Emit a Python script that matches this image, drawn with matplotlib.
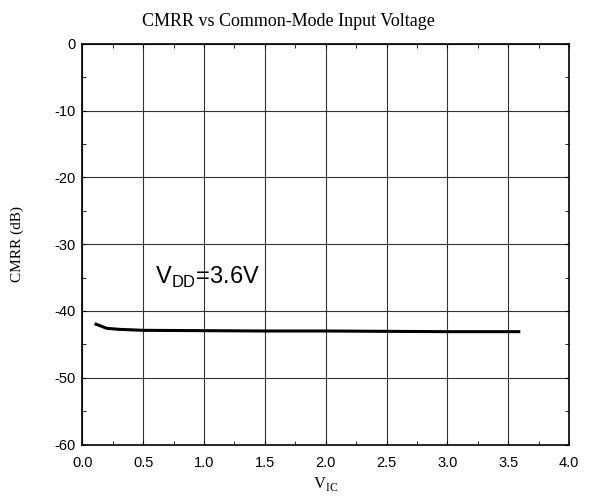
import matplotlib
matplotlib.use('Agg')
import matplotlib.pyplot as plt
from matplotlib.ticker import MultipleLocator

plt.rcParams['axes.unicode_minus'] = False

# CMRR vs common-mode input voltage, VDD = 3.6 V
vic = [0.1, 0.2, 0.3, 0.5, 1.0, 1.5, 2.0, 2.5, 3.0, 3.6]
cmrr = [-41.9, -42.6, -42.75, -42.9, -42.95, -43.0, -43.0, -43.05, -43.1, -43.1]

fig = plt.figure(figsize=(5.89, 5.04), dpi=100)
ax = fig.add_axes([0.14, 0.118, 0.826, 0.795])

ax.plot(vic, cmrr, color='black', lw=2.2, solid_capstyle='butt')

ax.set_xlim(0, 4)
ax.set_ylim(-60, 0)
ax.xaxis.set_major_locator(MultipleLocator(0.5))
ax.xaxis.set_minor_locator(MultipleLocator(0.25))
ax.yaxis.set_major_locator(MultipleLocator(10))
ax.yaxis.set_minor_locator(MultipleLocator(5))
ax.set_xticklabels([f'{v:.1f}' for v in ax.get_xticks()])
ax.grid(True, which='major', color='#333333', lw=0.8)
ax.tick_params(which='both', direction='in', top=True, right=True,
               labelsize=10.5, length=3)
ax.tick_params(axis='x', pad=8)
ax.tick_params(axis='y', pad=5)
for lab in ax.get_xticklabels() + ax.get_yticklabels():
    lab.set_fontfamily('Liberation Sans')
for s in ax.spines.values():
    s.set_linewidth(1.2)

fig.text(0.49, 0.948, 'CMRR vs Common-Mode Input Voltage',
         fontfamily='Liberation Serif', fontsize=13, ha='center', va='baseline')
ax.set_ylabel('CMRR (dB)', fontfamily='Liberation Serif', fontsize=11)
ax.yaxis.set_label_coords(-0.12, 0.5)
ax.set_xlabel(r'V$_{\mathregular{IC}}$', fontfamily='Liberation Serif', fontsize=12,
              labelpad=4)
ax.text(0.6, -36, r'V$_{\mathregular{DD}}$=3.6V', fontfamily='Liberation Sans',
        fontsize=17)

fig.savefig('out.png', dpi=100)
